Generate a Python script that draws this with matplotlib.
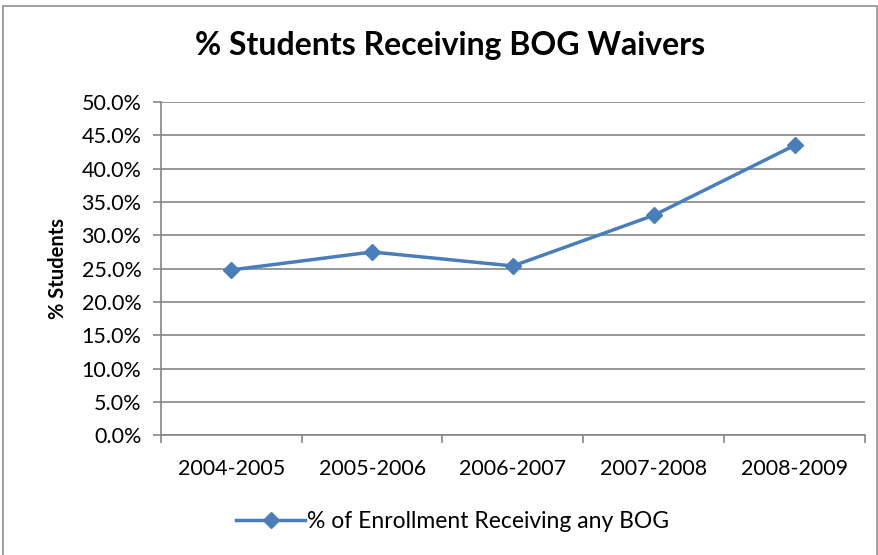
import matplotlib.pyplot as plt
from matplotlib.ticker import FuncFormatter, FixedLocator
from matplotlib.patches import Rectangle

years = ['2004-2005', '2005-2006', '2006-2007', '2007-2008', '2008-2009']
pct_bog = [24.8, 27.5, 25.4, 33.0, 43.5]
y_ticks = [0, 5, 10, 15, 20, 25, 30, 35, 40, 45, 50]

plt.rcParams['font.family'] = ['Lato', 'DejaVu Sans']

line_color = '#4A7EBB'
grid_color = '#868686'

fig = plt.figure(figsize=(8.79, 5.55), dpi=100)
ax = fig.add_axes([0.183, 0.216, 0.801, 0.600])

x = list(range(len(years)))
ax.plot(x, pct_bog, color=line_color, linewidth=2.5, marker='D', markersize=8,
        label='% of Enrollment Receiving any BOG', zorder=3)

ax.set_xlim(-0.5, len(years) - 0.5)
ax.set_ylim(0, 50)
ax.set_yticks(y_ticks)
ax.yaxis.set_major_formatter(FuncFormatter(lambda v, p: '%.1f%%' % v))
ax.yaxis.grid(True, color=grid_color, linewidth=1.2)
ax.set_axisbelow(True)

# category labels without marks, boundary ticks as marks
ax.set_xticks(x)
ax.set_xticklabels(years)
ax.tick_params(axis='x', which='major', length=0, pad=17, labelsize=15.5)
ax.xaxis.set_minor_locator(FixedLocator([i - 0.5 for i in range(len(years) + 1)]))
ax.tick_params(axis='x', which='minor', length=6, color=grid_color, width=1.2)
ax.tick_params(axis='y', length=6, color=grid_color, width=1.2, labelsize=15.5, pad=8)

for side in ['top', 'right']:
    ax.spines[side].set_visible(False)
for side in ['left', 'bottom']:
    ax.spines[side].set_color(grid_color)
    ax.spines[side].set_linewidth(1.2)

ax.set_ylabel('% Students', fontsize=14.5, fontweight='bold', labelpad=10)
fig.suptitle('% Students Receiving BOG Waivers', fontsize=23, fontweight='bold', x=0.512, y=0.945)

fig.legend(loc='center', bbox_to_anchor=(0.515, 0.06), frameon=False, fontsize=16.5,
           handlelength=3.0, handletextpad=0.1)

fig.patches.append(Rectangle((0.003, -0.01), 0.995, 1.0, transform=fig.transFigure,
                             fill=False, edgecolor='#909090', linewidth=1.2))

plt.savefig('out.png', dpi=100)
